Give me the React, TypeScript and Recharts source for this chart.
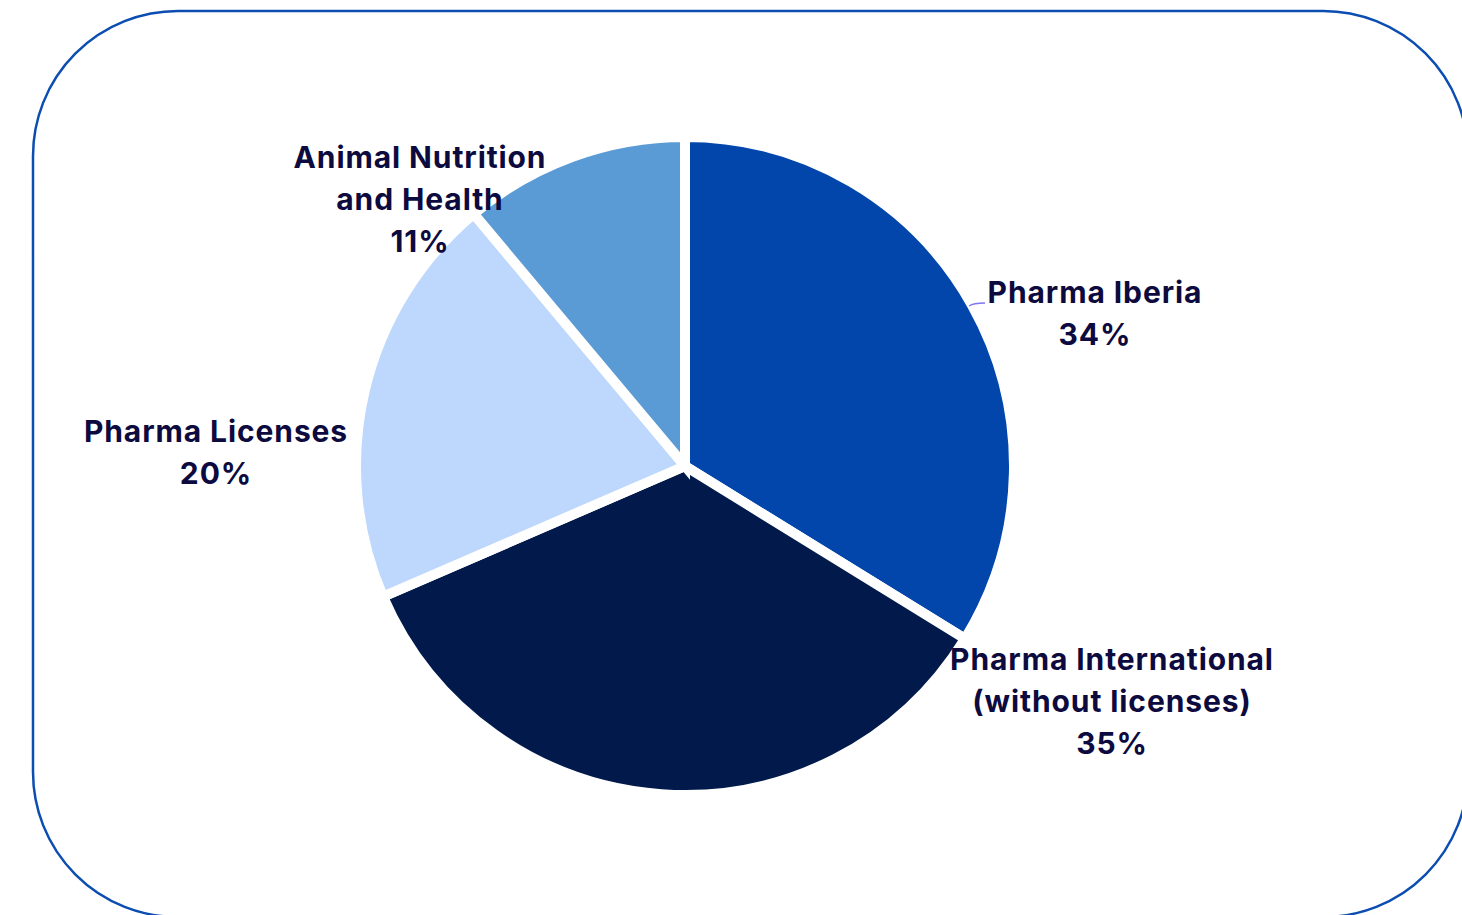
import React from "react";
import { PieChart, Pie, Cell } from "recharts";

const categories = [
  "Pharma Iberia",
  "Pharma International\n(without licenses)",
  "Pharma Licenses",
  "Animal Nutrition\nand Health",
];
const shares = [33.8, 34.7, 20.4, 11.1];
const colors = ["#0246AC", "#011A4B", "#BDD7FD", "#5B9BD5"];

const data = categories.map((name, i) => ({ name, value: shares[i] }));

const W = 1462;
const H = 915;
const CX = 685;
const CY = 466;
const OUTER = 329;
const GAP = 10;
const TEXT_COLOR = "#0C0A3E";
const FONT = "Inter, 'DejaVu Sans', sans-serif";
const FONT_SIZE = 30;
const LINE_H = 42;

// label anchor offsets (text center x, first baseline y) relative to pie centre
const labelOffsets = [
  { dx: 410, dy: -163 },
  { dx: 427, dy: 204 },
  { dx: -469, dy: -24 },
  { dx: -265, dy: -298 },
];

const renderLabel = (props: any) => {
  const { cx, cy, index, name, value, outerRadius } = props;
  const off = labelOffsets[index];
  const x = cx + off.dx;
  const y = cy + off.dy;
  const lines = String(name).split("\n");
  lines.push(`${Math.round(value)}%`);
  let leader = null;
  if (index === 0) {
    const r = outerRadius - GAP / 2;
    const ly = off.dy + 2;
    const ex = Math.sqrt(Math.max(r * r - ly * ly, 0));
    const x0 = cx + ex + 3;
    const y0 = cy + ly + 1;
    const x1 = cx + off.dx - 110;
    const y1 = cy + off.dy;
    leader = (
      <path
        d={`M${x0},${y0} Q${x0 + 4},${y1} ${x1},${y1}`}
        stroke="#7F77F0"
        strokeWidth={1.3}
        fill="none"
      />
    );
  }
  return (
    <g key={`lbl-${index}`}>
      {leader}
      <text
        x={x}
        y={y}
        textAnchor="middle"
        fill={TEXT_COLOR}
        fontFamily={FONT}
        fontWeight={700}
        fontSize={FONT_SIZE}
        letterSpacing={0.9}
      >
        {lines.map((l, i) => (
          <tspan key={i} x={x} y={y + i * LINE_H}>
            {l}
          </tspan>
        ))}
      </text>
    </g>
  );
};

export default function App() {
  return (
    <div
      style={{
        position: "absolute",
        left: 0,
        top: 0,
        width: W,
        height: H,
        overflow: "hidden",
        background: "#ffffff",
      }}
    >
      <svg
        width={W}
        height={H}
        style={{ position: "absolute", left: 0, top: 0 }}
      >
        <rect
          x={33}
          y={11}
          width={1435}
          height={906}
          rx={145}
          ry={145}
          fill="none"
          stroke="#0B4DB0"
          strokeWidth={2.5}
        />
      </svg>
      <div style={{ position: "absolute", left: 0, top: 0 }}>
        <PieChart width={W} height={H} margin={{ top: 0, right: 0, bottom: 0, left: 0 }}>
          <Pie
            data={data}
            dataKey="value"
            nameKey="name"
            cx={CX}
            cy={CY}
            outerRadius={OUTER}
            startAngle={90}
            endAngle={-270}
            stroke="#ffffff"
            strokeWidth={GAP}
            label={renderLabel}
            labelLine={false}
            isAnimationActive={false}
          >
            {data.map((d, i) => (
              <Cell key={d.name} fill={colors[i]} stroke="#ffffff" strokeWidth={GAP} />
            ))}
          </Pie>
        </PieChart>
      </div>
    </div>
  );
}
